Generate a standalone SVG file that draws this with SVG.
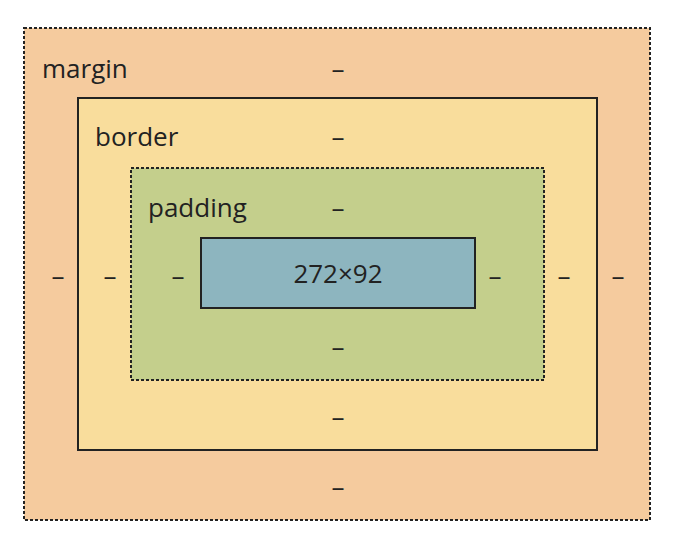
<svg xmlns="http://www.w3.org/2000/svg" width="688" height="550" viewBox="0 0 688 550">
<style>
text{font-family:"Open Sans","Noto Sans","DejaVu Sans",sans-serif;font-size:26px;fill:#222}
.d{text-anchor:middle}
</style>
<rect width="688" height="550" fill="#fff"/>
<g id="margin"><rect x="24" y="28" width="626" height="492" fill="#f5cb9e" stroke="#222" stroke-width="2" stroke-dasharray="3,2"/>
<text x="42" y="78">margin</text><text class="d" x="338" y="78">–</text><text class="d" x="338" y="496">–</text><text class="d" x="58" y="285">–</text><text class="d" x="618" y="285">–</text></g>
<g id="border"><rect x="78" y="98" width="519" height="352" fill="#f9dd9c" stroke="#222" stroke-width="2"/>
<text x="95" y="146">border</text><text class="d" x="338" y="146">–</text><text class="d" x="338" y="426">–</text><text class="d" x="110" y="285">–</text><text class="d" x="564" y="285">–</text></g>
<g id="padding"><rect x="131" y="168" width="413" height="212" fill="#c4cf8c" stroke="#222" stroke-width="2" stroke-dasharray="3,2"/>
<text x="148" y="217">padding</text><text class="d" x="338" y="217">–</text><text class="d" x="338" y="356">–</text><text class="d" x="178" y="285">–</text><text class="d" x="495" y="285">–</text></g>
<g id="content"><rect x="201" y="238" width="274" height="70" fill="#8db5bf" stroke="#222" stroke-width="2"/>
<text class="d" x="338" y="283">272×92</text></g>
<g id="connectors"/>
</svg>
